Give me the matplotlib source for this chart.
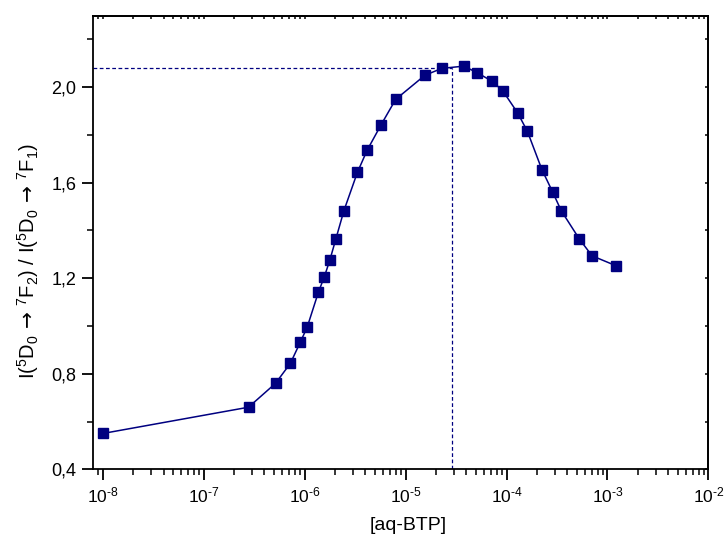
import numpy as np
import matplotlib
matplotlib.use('Agg')
import matplotlib.pyplot as plt
from matplotlib.ticker import LogLocator, FixedLocator, FuncFormatter, NullFormatter

plt.rcParams['font.family'] = ['Liberation Sans', 'DejaVu Sans']
plt.rcParams['mathtext.fontset'] = 'custom'
plt.rcParams['mathtext.rm'] = 'Liberation Sans'
plt.rcParams['mathtext.it'] = 'Liberation Sans:italic'
plt.rcParams['mathtext.bf'] = 'Liberation Sans:bold'
plt.rcParams['mathtext.cal'] = 'DejaVu Sans'  # so para a seta

# concentracao de aq-BTP (M) e razao de intensidades
conc = [1.0e-8, 2.78e-7, 5.15e-7, 7.23e-7, 9.1e-7, 1.06e-6, 1.37e-6, 1.57e-6,
        1.78e-6, 2.04e-6, 2.45e-6, 3.33e-6, 4.16e-6, 5.71e-6, 7.98e-6,
        1.556e-5, 2.30e-5, 3.78e-5, 5.15e-5, 7.24e-5, 9.17e-5, 1.29e-4,
        1.61e-4, 2.24e-4, 2.87e-4, 3.48e-4, 5.27e-4, 7.03e-4, 1.22e-3]
razao = [0.55, 0.66, 0.76, 0.844, 0.934, 0.995, 1.142, 1.207,
         1.277, 1.365, 1.483, 1.643, 1.736, 1.842, 1.949,
         2.050, 2.079, 2.088, 2.060, 2.024, 1.985, 1.892,
         1.815, 1.655, 1.560, 1.483, 1.364, 1.294, 1.252]

# maximo marcado com linhas tracejadas
x_max = 2.89e-5
y_max = 2.081

xticks = [1e-8, 1e-7, 1e-6, 1e-5, 1e-4, 1e-3, 1e-2]
yticks = [0.4, 0.8, 1.2, 1.6, 2.0]
yticks_min = [0.6, 1.0, 1.4, 1.8, 2.2]

cor = '#000080'

fig = plt.figure(figsize=(7.24, 5.41), dpi=100)
ax = fig.add_axes([0.1285, 0.1325, 0.85, 0.8388])

ax.plot(conc, razao, color=cor, lw=1.1, marker='s', ms=7.5,
        mfc=cor, mec=cor, zorder=3)

ax.set_xscale('log')
ax.set_xlim(10**-8.096, 1e-2)
ax.set_ylim(0.4, 2.3)

ax.plot([10**-8.096, x_max], [y_max, y_max], color=cor, lw=0.9,
        ls=(0, (3, 2)), zorder=2)
ax.plot([x_max, x_max], [0.4, y_max], color=cor, lw=0.9,
        ls=(0, (3, 2)), zorder=2)

ax.xaxis.set_major_locator(FixedLocator(xticks))
ax.xaxis.set_minor_locator(LogLocator(base=10, subs=np.arange(2, 10), numticks=20))
ax.xaxis.set_minor_formatter(NullFormatter())
# expoente com hifen curto, como no original
ax.xaxis.set_major_formatter(FuncFormatter(
    lambda v, p: r'$10^{\text{-}%d}$' % abs(round(np.log10(v)))))

ax.yaxis.set_major_locator(FixedLocator(yticks))
ax.yaxis.set_minor_locator(FixedLocator(yticks_min))
ax.yaxis.set_major_formatter(FuncFormatter(lambda v, p: ('%.1f' % v).replace('.', ',')))

for s in ax.spines.values():
    s.set_linewidth(1.3)

ax.tick_params(axis='both', which='major', direction='out', length=8, width=1.3, pad=4)
ax.tick_params(axis='both', which='minor', direction='out', length=4, width=1.1)
ax.tick_params(axis='y', labelsize=13)
ax.tick_params(axis='x', labelsize=12.5)

# ticks de cima e da direita bem curtos, para dentro
ax2x = ax.secondary_xaxis('top')
ax2x.xaxis.set_major_locator(FixedLocator(xticks))
ax2x.xaxis.set_minor_locator(LogLocator(base=10, subs=np.arange(2, 10), numticks=20))
ax2x.tick_params(which='both', direction='in', length=2, width=1.1, labeltop=False)
ax2x.spines['top'].set_linewidth(1.3)
ax2y = ax.secondary_yaxis('right')
ax2y.yaxis.set_major_locator(FixedLocator(yticks))
ax2y.yaxis.set_minor_locator(FixedLocator(yticks_min))
ax2y.tick_params(which='both', direction='in', length=2, width=1.1, labelright=False)
ax2y.spines['right'].set_linewidth(1.3)

ax.set_xlabel('[aq-BTP]', fontsize=14)
ax.xaxis.set_label_coords(0.512, -0.105)
ax.set_ylabel(r'I($^5$D$_0$$\,\mathcal{\rightarrow}\,$$^7$F$_2$) / '
              r'I($^5$D$_0$$\,\mathcal{\rightarrow}\,$$^7$F$_1$)', fontsize=14.5)
ax.yaxis.set_label_coords(-0.085, 0.46)

fig.savefig('out.png', dpi=100)
